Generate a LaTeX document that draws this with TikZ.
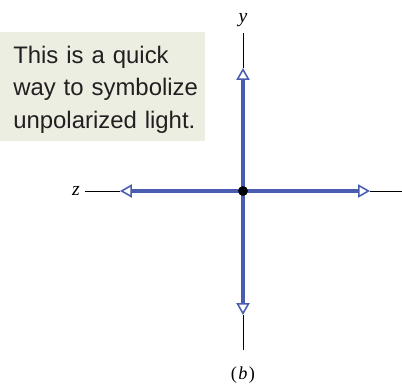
\documentclass[tikz,border=0pt]{standalone}
\usepackage{fontspec}
\newfontfamily\notefont{Liberation Sans}
\newfontfamily\labelfont{Liberation Serif}
\usepackage{tikz}
\usetikzlibrary{arrows.meta,positioning,backgrounds}
\definecolor{rayblue}{RGB}{74,93,176}
\definecolor{notebg}{RGB}{237,238,226}
\definecolor{notetext}{RGB}{35,31,32}

\begin{document}
\begin{tikzpicture}[
    x=0.025cm, y=-0.025cm,
    note/.style={inner sep=0pt, text width=5cm, align=left, text=notetext, font=\notefont\fontsize{17}{23.1}\selectfont},
    axis/.style={line width=0.7pt, black},
    ray/.style={line width=3.3pt, rayblue, -{Triangle[open, fill=white, length=8.5pt, width=9.4pt, line width=1.1pt]}},
    axlabel/.style={inner sep=0pt, font=\labelfont\itshape\fontsize{14}{16}\selectfont},
    center/.style={circle, fill=black, inner sep=0pt, minimum size=7pt}
]
\useasboundingbox (0,0) rectangle (402,384);

% note box
\fill[notebg] (0,32) rectangle (205,141);
\node[note, anchor=north west] (note) at (13,45.8) {This is a quick\\way to symbolize\\unpolarized light.};

% axes
\coordinate (o) at (243,191);
\coordinate (tipN) at (243,68);
\coordinate (tipS) at (243,315);
\coordinate (tipW) at (120,191);
\coordinate (tipE) at (370,191);
\coordinate (endN) at (243,33);
\coordinate (endS) at (243,350);
\coordinate (endW) at (85,191);
\coordinate (endE) at (402,191);

\draw[axis] (tipN) -- (endN);
\draw[axis] (tipS) -- (endS);
\draw[axis] (tipW) -- (endW);
\draw[axis] (tipE) -- (endE);

% unpolarized light
\draw[ray] (o) -- (tipN);
\draw[ray] (o) -- (tipS);
\draw[ray] (o) -- (tipW);
\draw[ray] (o) -- (tipE);
\node[center] (dot) at (o) {};

\node[axlabel] (ylbl) at (243,20) {y};
\node[axlabel] (zlbl) at (76,191) {z};
\node[axlabel, font=\labelfont\fontsize{13}{15}\selectfont] (cap) at (243,375) {(\kern1pt\textit{b}\kern1pt)};
\end{tikzpicture}
\end{document}
